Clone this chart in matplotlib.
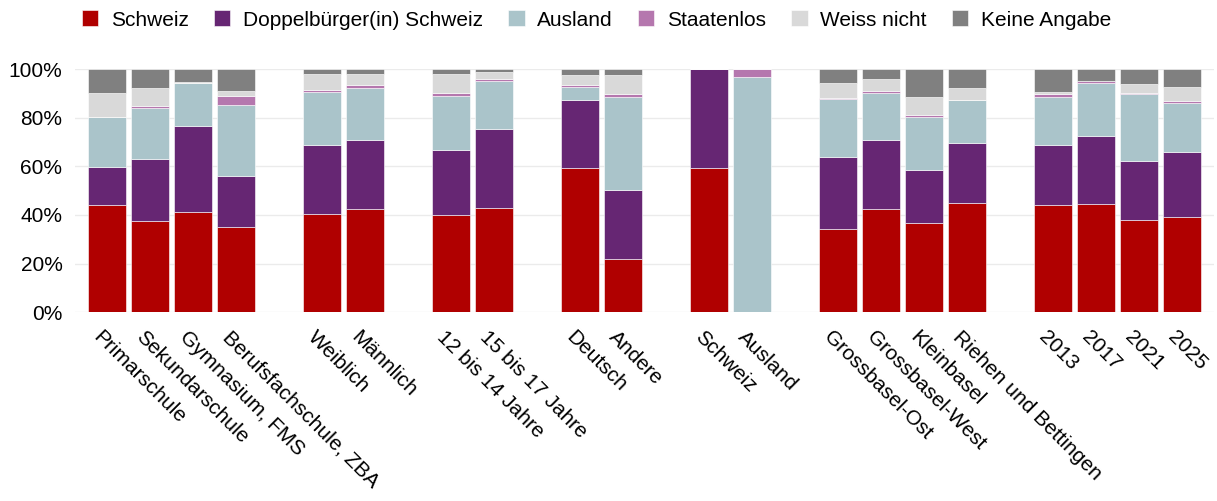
import matplotlib
matplotlib.use("Agg")
import matplotlib.pyplot as plt
from matplotlib.transforms import ScaledTranslation
import numpy as np

plt.rcParams["font.family"] = ["Liberation Sans", "DejaVu Sans"]

# Kategorien, in Gruppen (zwischen den Gruppen bleibt ein Platz frei)
groups = [
    ["Primarschule", "Sekundarschule", "Gymnasium, FMS", "Berufsfachschule, ZBA"],
    ["Weiblich", "Männlich"],
    ["12 bis 14 Jahre", "15 bis 17 Jahre"],
    ["Deutsch", "Andere"],
    ["Schweiz", "Ausland"],
    ["Grossbasel-Ost", "Grossbasel-West", "Kleinbasel", "Riehen und Bettingen"],
    ["2013", "2017", "2021", "2025"],
]

series_names = ["Schweiz", "Doppelbürger(in) Schweiz", "Ausland", "Staatenlos",
                "Weiss nicht", "Keine Angabe"]
colors = ["#B00000", "#662673", "#AAC4CA", "#B577AE", "#D9D9D9", "#808080"]

# Anteile in %
schweiz =    [44.2, 37.4, 41.1, 34.9, 40.2, 42.3, 40.0, 42.9, 59.2, 21.7, 59.2, 0.0,
              34.1, 42.3, 36.5, 45.1, 44.0, 44.6, 37.9, 39.0]
doppel =     [15.7, 25.8, 35.7, 21.1, 28.6, 28.7, 26.6, 32.4, 28.2, 28.4, 40.8, 0.0,
              29.9, 28.6, 21.9, 24.3, 24.8, 27.9, 24.2, 26.7]
ausland =    [20.3, 20.7, 17.3, 29.2, 21.7, 21.4, 22.5, 19.8, 5.3, 38.5, 0.0, 96.7,
              23.6, 19.3, 22.0, 17.8, 19.9, 21.7, 27.5, 20.4]
staatenlos = [0.1, 0.9, 0.3, 3.9, 0.8, 0.9, 0.9, 0.9, 0.8, 1.1, 0.0, 3.3,
              0.7, 0.7, 0.6, 0.1, 1.1, 0.9, 0.6, 0.7]
weiss =      [9.8, 7.6, 0.5, 1.7, 6.6, 4.9, 7.9, 2.9, 4.0, 7.7, 0.0, 0.0,
              5.9, 5.1, 7.6, 5.1, 0.7, 0.0, 3.5, 5.8]
keine =      [10.0, 7.6, 5.1, 9.2, 2.1, 1.8, 2.1, 1.1, 2.5, 2.6, 0.0, 0.0,
              5.8, 4.0, 11.4, 7.6, 9.5, 4.9, 6.3, 7.4]

# Positionen mit Lücke zwischen den Gruppen
labels = []
pos = []
p = 0
for g in groups:
    for lab in g:
        labels.append(lab)
        pos.append(p)
        p += 1
    p += 1
pos = np.array(pos)

fig = plt.figure(figsize=(12.17, 5.01), dpi=100)
ax = fig.add_axes([0.0616, 0.377, 0.936, 0.485])

bottom = np.zeros(len(pos))
for name, vals, col in zip(series_names, [schweiz, doppel, ausland, staatenlos, weiss, keine], colors):
    vals = np.array(vals)
    ax.bar(pos, vals, width=0.88, bottom=bottom, color=col, label=name,
           edgecolor="white", linewidth=0.4)
    bottom += vals

ax.set_ylim(0, 100)
ax.set_xlim(pos[0] - 0.75, pos[-1] + 0.75)
ax.set_yticks([0, 20, 40, 60, 80, 100])
ax.set_yticklabels([f"{v}%" for v in [0, 20, 40, 60, 80, 100]], fontsize=15)
ax.yaxis.grid(True, color="#EBEBEB", linewidth=1)
ax.set_axisbelow(True)
for s in ax.spines.values():
    s.set_visible(False)
ax.tick_params(axis="both", length=0)
ax.tick_params(axis="y", pad=9)
ax.tick_params(axis="x", pad=11)

ax.set_xticks(pos)
ax.set_xticklabels(labels, rotation=-45, ha="left", va="top",
                   rotation_mode="anchor", fontsize=15)
off = ScaledTranslation(-3 / 72, 0, fig.dpi_scale_trans)
for lab in ax.get_xticklabels():
    lab.set_transform(lab.get_transform() + off)

fig.legend(loc="center", bbox_to_anchor=(0.49, 0.96), ncol=6, frameon=False,
           fontsize=15, handlelength=0.8, handleheight=0.8, handletextpad=0.6,
           columnspacing=1.2)

fig.savefig("out.png", dpi=100)
